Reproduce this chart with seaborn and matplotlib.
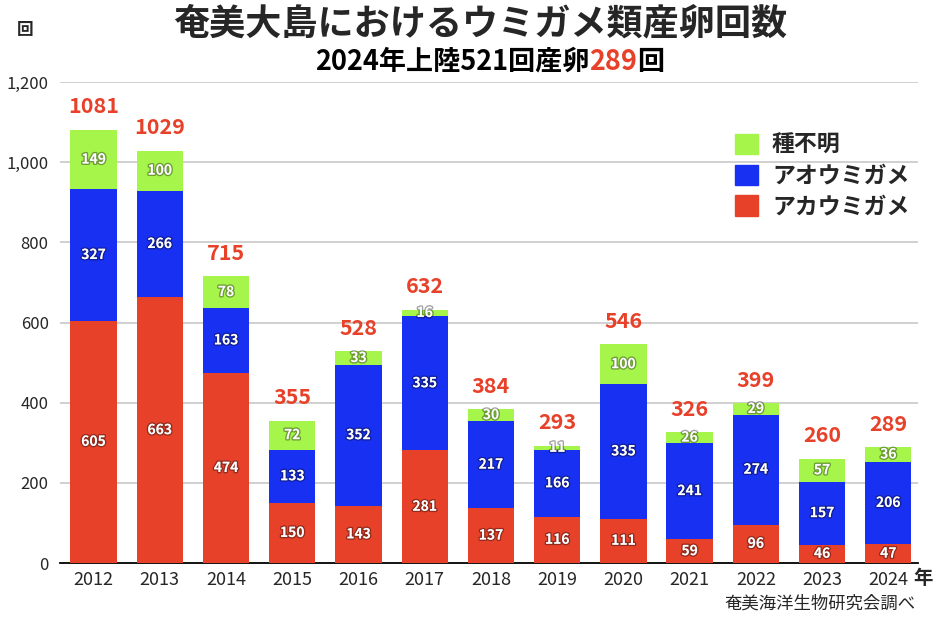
import matplotlib
matplotlib.use("Agg")
import matplotlib.pyplot as plt
import matplotlib.patheffects as pe
import seaborn as sns
import pandas as pd
import numpy as np
from matplotlib.patches import Patch

years = ["2012", "2013", "2014", "2015", "2016", "2017", "2018", "2019", "2020", "2021", "2022", "2023", "2024"]
akaumigame = [605, 663, 474, 150, 143, 281, 137, 116, 111, 59, 96, 46, 47]
aoumigame = [327, 266, 163, 133, 352, 335, 217, 166, 335, 241, 274, 157, 206]
fumei = [149, 100, 78, 72, 33, 16, 30, 11, 100, 26, 29, 57, 36]
yticks = [0, 200, 400, 600, 800, 1000, 1200]
ytick_labels = ["0", "200", "400", "600", "800", "1,000", "1,200"]

C_GREEN = "#A6F54B"
C_BLUE = "#1830F2"
C_RED = "#E8412A"

sns.set_style("white")
plt.rcParams["font.family"] = ["Noto Sans CJK JP", "DejaVu Sans"]

df = pd.DataFrame({"year": years, "red": akaumigame, "blue": aoumigame, "green": fumei})
df["rb"] = df["red"] + df["blue"]
df["total"] = df["rb"] + df["green"]

fig = plt.figure(figsize=(9.34, 6.17), dpi=100)
ax = fig.add_axes([0.064, 0.0875, 0.919, 0.7795])

for v in yticks[1:]:
    ax.axhline(v, color="#c8c8c8", lw=1.2, zorder=0)

for col, c, z in [("total", C_GREEN, 2), ("rb", C_BLUE, 3), ("red", C_RED, 4)]:
    sns.barplot(data=df, x="year", y=col, color=c, saturation=1, width=0.7, ax=ax,
                zorder=z, linewidth=0, edgecolor="none")

ax.set_xlim(-0.51, 12.45)
ax.set_ylim(0, 1200)
ax.set_yticks(yticks)
ax.set_yticklabels(ytick_labels, fontsize=12)
ax.set_xlabel("")
ax.set_ylabel("")
ax.tick_params(axis="x", labelsize=13, length=0, pad=6)
ax.tick_params(axis="y", length=0, pad=8)
for s in ["top", "right", "left"]:
    ax.spines[s].set_visible(False)
ax.spines["bottom"].set_color("black")
ax.spines["bottom"].set_linewidth(1.3)

lbl_fx = [pe.Stroke(linewidth=2, foreground=(0, 0, 0, 0.35)), pe.Normal()]
for i in range(len(years)):
    r, b, g = akaumigame[i], aoumigame[i], fumei[i]
    for val, y in [(r, r / 2), (b, r + b / 2), (g, r + b + g / 2)]:
        ax.text(i, y, str(val), ha="center", va="center", color="white", fontsize=10,
                fontweight="bold", zorder=6, path_effects=lbl_fx)
    tot = r + b + g
    ax.annotate(str(tot), (i, tot), xytext=(0, 9), textcoords="offset points", ha="center",
                va="bottom", color=C_RED, fontsize=15.5, fontweight="bold", zorder=6)

handles = [Patch(color=C_GREEN), Patch(color=C_BLUE), Patch(color=C_RED)]
labels = ["種不明", "アオウミガメ", "アカウミガメ"]
leg = ax.legend(handles, labels, loc="upper left", bbox_to_anchor=(0.763, 0.935), frameon=False,
                fontsize=16.5, handlelength=1.0, handleheight=1.0, labelspacing=0.33, handletextpad=0.6)
for t in leg.get_texts():
    t.set_fontweight("bold")

fig.text(0.514, 0.962, "奄美大島におけるウミガメ類産卵回数", ha="center", va="center", fontsize=26, fontweight="bold")
sub_parts = [("2024年上陸521回産卵", "black"), ("289", C_RED), ("回", "black")]
fig.canvas.draw()
renderer = fig.canvas.get_renderer()
texts = []
for s, c in sub_parts:
    t = fig.text(0, 0.9, s, ha="left", va="center", fontsize=19.5, fontweight="bold", color=c)
    texts.append(t)
widths = [t.get_window_extent(renderer).width for t in texts]
total_w = sum(widths)
x0 = 0.524 * 934 - total_w / 2
for t, w in zip(texts, widths):
    t.set_x(x0 / 934)
    x0 += w

fig.text(0.027, 0.952, "回", ha="center", va="center", fontsize=12, fontweight="bold")
fig.text(0.988, 0.063, "年", ha="center", va="center", fontsize=14, fontweight="bold")
fig.text(0.98, 0.022, "奄美海洋生物研究会調べ", ha="right", va="center", fontsize=12.5)

fig.savefig("out.png", dpi=100)
